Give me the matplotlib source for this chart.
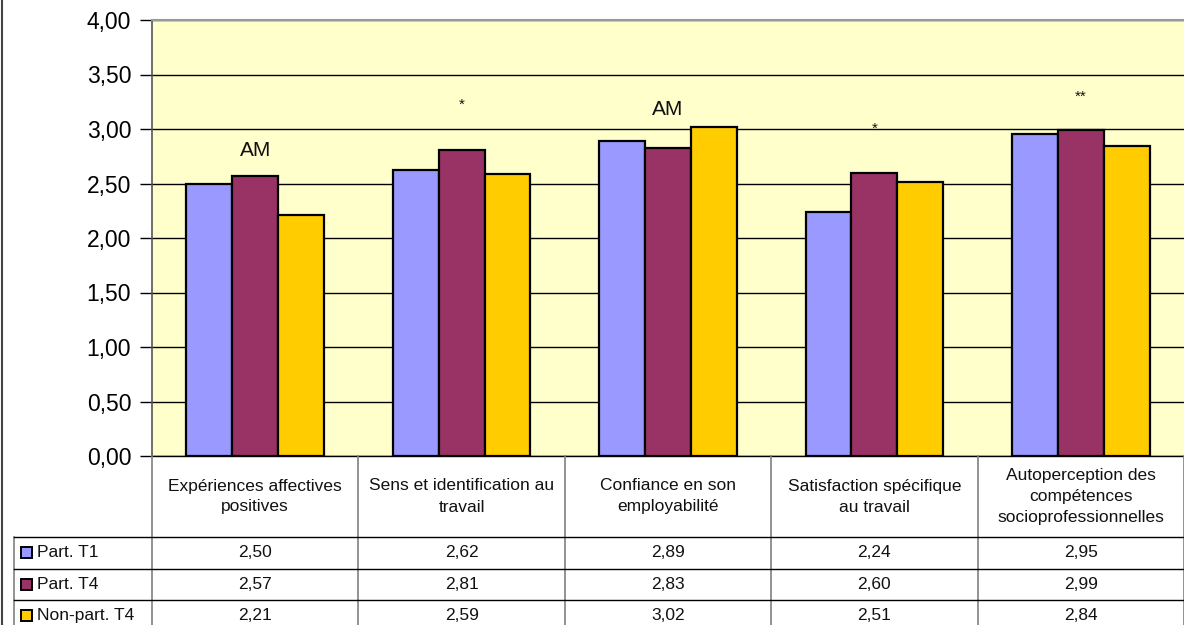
import matplotlib
matplotlib.use("Agg")
import matplotlib.pyplot as plt
from matplotlib.patches import Rectangle
from matplotlib.lines import Line2D
import numpy as np

plt.rcParams['font.family'] = ['Liberation Sans', 'DejaVu Sans']

categories = [
    "Expériences affectives\npositives",
    "Sens et identification au\ntravail",
    "Confiance en son\nemployabilité",
    "Satisfaction spécifique\nau travail",
    "Autoperception des\ncompétences\nsocioprofessionnelles",
]
series_names = ["Part. T1", "Part. T4", "Non-part. T4"]
part_t1 = [2.50, 2.62, 2.89, 2.24, 2.95]
part_t4 = [2.57, 2.81, 2.83, 2.60, 2.99]
nonpart_t4 = [2.21, 2.59, 3.02, 2.51, 2.84]
series = [part_t1, part_t4, nonpart_t4]
colors = ["#9999FF", "#993366", "#FFCC00"]

# significance markers above each group: (text, y level, font size)
markers = [("AM", 2.80, 15), ("*", 3.22, 11), ("AM", 3.18, 15), ("*", 3.00, 11), ("**", 3.30, 11)]
y_ticks = np.arange(0, 4.01, 0.5)

W, H = 1184, 625
fig = plt.figure(figsize=(W / 100, H / 100), dpi=100)
fig.patch.set_facecolor("white")


def fx(px):
    return px / W


def fy(py):
    return 1 - py / H


plot_left, plot_right, plot_top, plot_bottom = 152, 1184, 20, 456
ax = fig.add_axes([fx(plot_left), fy(plot_bottom), fx(plot_right - plot_left),
                   fy(plot_top) - fy(plot_bottom)])
ax.set_facecolor("#FFFFCC")
n = len(categories)
ax.set_xlim(0, n)
ax.set_ylim(0, 4)

bw = 1 / 4.5
x = np.arange(n) + 0.5
for k, (vals, col) in enumerate(zip(series, colors)):
    ax.bar(x + (k - 1) * bw, vals, width=bw, color=col, edgecolor="black",
           linewidth=1.6, zorder=3)

for xi, (txt, yv, fs) in zip(x, markers):
    ax.text(xi, yv, txt, ha="center", va="center", fontsize=fs, color="#111111", zorder=4)

ax.set_yticks(y_ticks)
ax.set_yticklabels([f"{v:.2f}".replace(".", ",") for v in y_ticks], fontsize=16.5)
ax.yaxis.grid(True, color="black", linewidth=1.0, zorder=1)
ax.set_axisbelow(True)
ax.set_xticks([])
ax.tick_params(axis="y", length=9, width=1, direction="out", pad=6, color="black")
ax.spines["left"].set_color("#555555")
ax.spines["left"].set_linewidth(1.2)
ax.spines["top"].set_color("#999999")
ax.spines["top"].set_linewidth(1.5)
ax.spines["right"].set_visible(False)
ax.spines["bottom"].set_color("black")
ax.spines["bottom"].set_linewidth(1.0)

# data table beneath the plot
def fline(x0, y0, x1, y1, color="black", lw=1.0):
    fig.add_artist(Line2D([fx(x0), fx(x1)], [fy(y0), fy(y1)], color=color, lw=lw,
                          transform=fig.transFigure))

cell_w = (plot_right - plot_left) / n
header_bottom = 537
row_h = 31.5
legend_left = 14
table_fs = 12.5

fline(2, 0, 2, H, color="#444444", lw=1.5)
for i in range(n + 1):
    xp = plot_left + i * cell_w
    fline(xp, plot_bottom, xp, H, color="#808080", lw=1.2)
fline(legend_left, header_bottom, legend_left, H, color="#808080", lw=1.2)
for r in range(3):
    yp = header_bottom + r * row_h
    fline(legend_left, yp, plot_right, yp, color="black", lw=1.0)

for i, cat in enumerate(categories):
    cx = plot_left + (i + 0.5) * cell_w
    fig.text(fx(cx), fy((plot_bottom + header_bottom) / 2), cat, ha="center", va="center",
             fontsize=table_fs, linespacing=1.5, color="#111111")

for r, (name, vals, col) in enumerate(zip(series_names, series, colors)):
    cy = header_bottom + (r + 0.5) * row_h
    sq = 11
    fig.add_artist(Rectangle((fx(21), fy(cy + sq / 2)), fx(sq), fy(cy - sq / 2) - fy(cy + sq / 2),
                             facecolor=col, edgecolor="black", lw=1.4,
                             transform=fig.transFigure))
    fig.text(fx(37), fy(cy), name, ha="left", va="center", fontsize=table_fs, color="#111111")
    for i, v in enumerate(vals):
        cx = plot_left + (i + 0.5) * cell_w
        fig.text(fx(cx), fy(cy), f"{v:.2f}".replace(".", ","), ha="center", va="center",
                 fontsize=table_fs, color="#111111")

fig.savefig("out.png", dpi=100, facecolor="white")
